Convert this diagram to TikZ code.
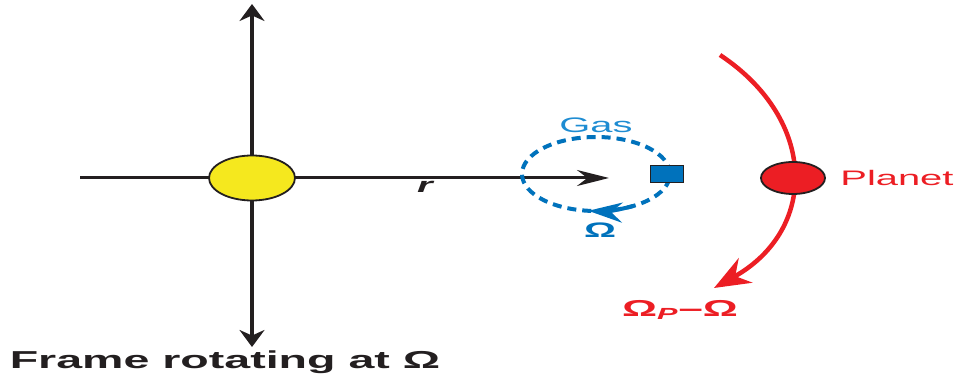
\documentclass[tikz,border=0pt]{standalone}
\usepackage{fontspec}
\setmainfont{Liberation Sans}
\usetikzlibrary{arrows.meta,shapes.geometric}
\definecolor{sunyellow}{RGB}{245,232,30}
\definecolor{planetred}{RGB}{236,30,36}
\definecolor{gasblue}{RGB}{0,114,188}
\definecolor{gaslabel}{RGB}{30,140,210}
\definecolor{inkblack}{RGB}{35,31,32}

\begin{document}
\begin{tikzpicture}[x=1pt,y=1pt,
    wide/.style={xscale=1.9, inner sep=0pt}]
  \useasboundingbox (0,0) rectangle (958,390);
      \coordinate (top) at (252,386);
      \coordinate (bot) at (252,43);
      \coordinate (left) at (80,212);
      \coordinate (tip) at (609,212);
      \draw[line width=3.5pt, inkblack, {Stealth[length=17pt,width=25pt]}-{Stealth[length=17pt,width=25pt]}] (bot) to (top);
      \draw[line width=3pt, inkblack, -{Stealth[length=32pt,width=16pt]}] (left) to (tip);
      \node (sun) at (252,212) [draw=inkblack, ellipse, fill=sunyellow, line width=1.8pt, minimum width=86pt, minimum height=45pt] {};
      \node (r) at (425,203) [wide, text=inkblack, font=\fontsize{21}{21}\bfseries\itshape] {r};

      \coordinate (gc) at (596,216);
      \draw[gasblue, line width=4pt, dash pattern=on 9pt off 6pt] (gc) ellipse [x radius=74, y radius=37];
      \draw[gasblue, line width=4pt, -{Stealth[length=34pt,width=20pt]}] ([shift={(300:74 and 37)}]gc) arc[start angle=300, end angle=264, x radius=74, y radius=37];
      \node (parcel) at (667,216) [draw=inkblack, fill=gasblue, line width=1.5pt, minimum width=33pt, minimum height=17pt, inner sep=0pt] {};
      \node (gas) at (596,265) [wide, text=gaslabel, font=\fontsize{21}{21}\selectfont] {Gas};
      \node (omega) at (600,160) [wide, text=gasblue, font=\fontsize{21}{21}\bfseries] {Ω};

      \coordinate (atop) at (720,335);
      \coordinate (abot) at (714,102);
      \draw[planetred, line width=4.5pt, -{Stealth[length=36pt,width=28pt]}] (atop) .. controls (818,270) and (818,160) .. (abot);
      \node (planet) at (793,212) [draw=inkblack, ellipse, fill=planetred, line width=1.8pt, minimum width=64pt, minimum height=32pt] {};
      \node (plabel) at (840,212) [wide, anchor=west, text=planetred, font=\fontsize{21}{21}\selectfont] {Planet};
      \node (rel) at (680,80) [wide, text=planetred, font=\fontsize{23}{23}\bfseries] {Ω\textsubscript{\textit{P}}–Ω};
      \node (frame) at (225,28) [wide, text=inkblack, font=\fontsize{24.5}{24.5}\bfseries] {Frame rotating at Ω};
\end{tikzpicture}
\end{document}
